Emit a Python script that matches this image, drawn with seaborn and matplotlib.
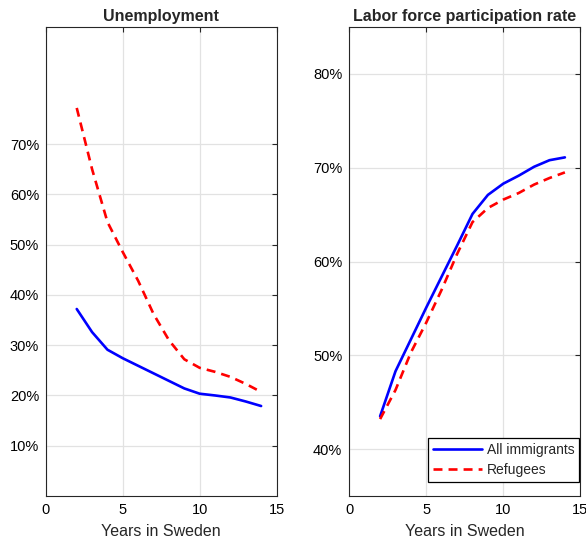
import matplotlib
matplotlib.use("Agg")
import matplotlib.pyplot as plt
import seaborn as sns
import pandas as pd
from matplotlib.ticker import PercentFormatter

# Years since arrival in Sweden
years = [2, 3, 4, 5, 6, 7, 8, 9, 10, 11, 12, 13, 14]

# Unemployment rate (share)
unemp_all = [0.372, 0.326, 0.291, 0.274, 0.259, 0.244, 0.229, 0.214, 0.2035, 0.200, 0.196, 0.188, 0.179]
unemp_ref = [0.772, 0.650, 0.545, 0.485, 0.428, 0.362, 0.310, 0.272, 0.255, 0.247, 0.237, 0.223, 0.207]

# Labor force participation rate (share)
lfp_all = [0.435, 0.483, 0.517, 0.551, 0.584, 0.617, 0.6507, 0.671, 0.683, 0.6915, 0.701, 0.708, 0.711]
lfp_ref = [0.432, 0.463, 0.503, 0.535, 0.570, 0.608, 0.642, 0.657, 0.666, 0.673, 0.682, 0.689, 0.695]

groups = ["All immigrants", "Refugees"]
titles = ["Unemployment", "Labor force participation rate"]
xlabel = "Years in Sweden"
x_ticks = [0, 5, 10, 15]
unemp_ticks = [0.1, 0.2, 0.3, 0.4, 0.5, 0.6, 0.7]
lfp_ticks = [0.4, 0.5, 0.6, 0.7, 0.8]


def long_frame(all_vals, ref_vals):
    return pd.DataFrame({
        "year": years * 2,
        "value": all_vals + ref_vals,
        "group": [groups[0]] * len(years) + [groups[1]] * len(years),
    })


sns.set_style("white")
plt.rcParams["font.family"] = ["Liberation Sans", "DejaVu Sans"]
plt.rcParams["axes.edgecolor"] = "#262626"
plt.rcParams["axes.linewidth"] = 0.8

fig = plt.figure(figsize=(5.86, 5.51), dpi=100)
ax1 = fig.add_axes([46 / 586, 55 / 551, 230.5 / 586, 469 / 551])
ax2 = fig.add_axes([349.3 / 586, 55 / 551, 231 / 586, 469 / 551])

palette = {groups[0]: "#0000ff", groups[1]: "#ff0000"}
dash_map = {groups[0]: "", groups[1]: (3.4, 2.3)}

panels = [
    (ax1, long_frame(unemp_all, unemp_ref), (0, 0.933), unemp_ticks, False),
    (ax2, long_frame(lfp_all, lfp_ref), (0.35, 0.85), lfp_ticks, True),
]

for ax, df, ylim, yt, show_legend in panels:
    sns.lineplot(data=df, x="year", y="value", hue="group", style="group",
                 palette=palette, dashes=dash_map, linewidth=1.9,
                 ax=ax, legend=show_legend)
    ax.set_xlim(0, 15)
    ax.set_ylim(*ylim)
    ax.set_xticks(x_ticks)
    ax.set_yticks(yt)
    ax.yaxis.set_major_formatter(PercentFormatter(1.0, decimals=0))
    ax.grid(True, color="#e2e2e2", linewidth=0.9)
    ax.set_axisbelow(True)
    ax.tick_params(direction="in", top=True, right=True, length=3.8,
                   width=0.8, labelsize=10.5, pad=5, colors="#262626",
                   labelcolor="black")
    for s in ax.spines.values():
        s.set_visible(True)
    ax.set_xlabel(xlabel, fontsize=11.5, labelpad=5)
    ax.set_ylabel("")

ax1.set_title(titles[0], fontsize=11.5, fontweight="bold", pad=4)
ax2.set_title(titles[1], fontsize=11.5, fontweight="bold", pad=4)

leg = ax2.legend(loc="lower right", bbox_to_anchor=(0.995, 0.03),
                 fontsize=10, frameon=True, fancybox=False,
                 borderaxespad=0.0, handlelength=3.5, borderpad=0.35,
                 labelspacing=0.45, handletextpad=0.35)
leg.get_frame().set_edgecolor("black")
leg.get_frame().set_linewidth(0.9)
leg.get_frame().set_alpha(1)

fig.savefig("out.png", dpi=100)
